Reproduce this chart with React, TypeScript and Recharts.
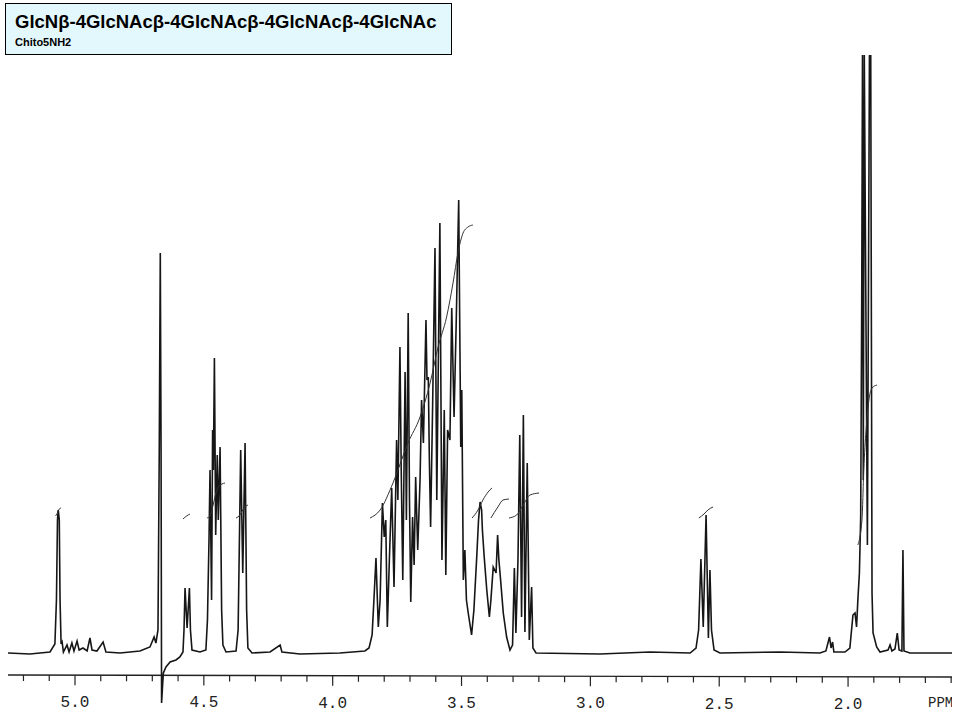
import React from "react";
import { LineChart, Line, XAxis, YAxis, ReferenceLine } from "recharts";

type Pt = [number, number];

// [ppm, intensity]
const anomericRegion: Pt[] = [
  [5.26, 0], [5.175, -1], [5.097, 1], [5.078, 9], [5.072, 53], [5.068, 133], [5.065, 143],
  [5.061, 133], [5.058, 53], [5.054, 9], [5.05, 11], [5.045, 1], [5.031, 8], [5.023, 1],
  [5.012, 10], [5.004, 2], [4.992, 12], [4.984, 3], [4.969, 5], [4.953, 2], [4.942, 15],
  [4.934, 3], [4.915, 2], [4.891, 11], [4.88, 1], [4.825, 0], [4.748, 2], [4.709, 6],
  [4.693, 16], [4.686, 10], [4.678, 23], [4.673, 203], [4.669, 400], [4.666, 203],
  [4.664, -50], [4.66, -32], [4.657, -20], [4.647, -14], [4.631, -9], [4.608, -7],
  [4.593, -4], [4.581, 1],
];

const h1Region: Pt[] = [
  [4.577, 23], [4.573, 65], [4.565, 25], [4.556, 65], [4.552, 23], [4.546, 3], [4.515, 1],
  [4.492, 3], [4.486, 33], [4.48, 113], [4.476, 183], [4.47, 53], [4.466, 223], [4.463, 183],
  [4.459, 295], [4.454, 118], [4.448, 198], [4.444, 133], [4.437, 206], [4.431, 43],
  [4.426, 8], [4.414, 1], [4.375, 2], [4.367, 23], [4.357, 203], [4.349, 80], [4.34, 210],
  [4.334, 43], [4.329, 5], [4.313, 0], [4.243, 1], [4.204, 8], [4.197, 1], [4.127, -1],
  [3.972, 0],
];

const ringRegion: Pt[] = [
  [3.875, 2], [3.859, 5], [3.847, 18], [3.84, 53], [3.832, 95], [3.823, 26], [3.816, 53],
  [3.807, 150], [3.8, 116], [3.794, 133], [3.788, 26], [3.78, 93], [3.771, 165], [3.762, 66],
  [3.752, 213], [3.747, 153], [3.739, 306], [3.734, 183], [3.728, 73], [3.719, 281],
  [3.714, 133], [3.707, 340], [3.702, 153], [3.697, 51], [3.69, 136], [3.684, 88],
  [3.678, 176], [3.67, 103], [3.661, 173], [3.655, 253], [3.648, 210], [3.638, 333],
  [3.634, 273], [3.629, 276], [3.625, 196], [3.62, 126], [3.612, 250], [3.603, 405],
  [3.596, 153], [3.584, 430], [3.576, 93], [3.567, 243], [3.561, 78], [3.554, 223],
  [3.545, 213], [3.538, 345], [3.529, 236], [3.521, 326], [3.511, 453], [3.503, 206],
  [3.499, 263], [3.493, 73], [3.487, 103], [3.481, 53], [3.474, 40], [3.461, 18],
  [3.452, 43], [3.441, 96], [3.434, 133], [3.428, 151], [3.422, 143], [3.419, 123],
  [3.412, 96], [3.402, 63], [3.392, 36], [3.386, 53], [3.377, 86], [3.366, 80], [3.36, 118],
  [3.355, 93], [3.349, 75], [3.338, 40], [3.325, 16], [3.312, 3], [3.302, 8], [3.295, 85],
  [3.289, 20], [3.281, 93], [3.274, 218], [3.267, 36], [3.26, 238], [3.254, 21], [3.245, 190],
  [3.237, 13], [3.228, 66], [3.223, 5], [3.211, 0],
];

const acetylRegion: Pt[] = [
  [2.963, -1], [2.769, 1], [2.613, 0], [2.59, 5], [2.58, 23], [2.571, 94], [2.562, 26],
  [2.551, 138], [2.542, 15], [2.536, 83], [2.53, 23], [2.52, 3], [2.497, 0], [2.264, 1],
  [2.109, 0], [2.086, 2], [2.072, 16], [2.066, 5], [2.06, 11], [2.055, 1], [2.012, 1],
  [1.993, 5], [1.981, 38], [1.973, 40], [1.967, 26], [1.962, 53], [1.956, 80], [1.951, 136],
  [1.947, 353], [1.944, 598], [1.941, 173], [1.937, 598], [1.925, 108], [1.917, 598],
  [1.912, 598], [1.907, 60], [1.903, 20], [1.889, 6], [1.876, 1], [1.845, 3], [1.837, 8],
  [1.83, 2], [1.818, 4], [1.809, 20], [1.802, 3], [1.791, 2], [1.787, 103], [1.783, 2],
  [1.76, 0], [1.585, 0],
];

// integral traces
const int506: Pt[] = [[5.076, 137], [5.07, 139], [5.064, 143], [5.054, 145]];
const int457: Pt[] = [[4.581, 134], [4.567, 137], [4.554, 139]];
const int447: Pt[] = [[4.488, 135], [4.476, 137], [4.464, 148], [4.453, 160], [4.441, 167], [4.418, 170]];
const int435: Pt[] = [[4.375, 135], [4.36, 138], [4.344, 145], [4.329, 148]];
const intRing: Pt[] = [
  [3.855, 135], [3.816, 143], [3.766, 170], [3.708, 210], [3.661, 236], [3.622, 270],
  [3.591, 306], [3.558, 336], [3.533, 370], [3.514, 400], [3.494, 420], [3.475, 426], [3.456, 428],
];
const int343: Pt[] = [[3.459, 135], [3.436, 143], [3.417, 153], [3.397, 161], [3.382, 165]];
const int337: Pt[] = [[3.386, 135], [3.359, 146], [3.339, 153], [3.316, 154]];
const int326: Pt[] = [[3.316, 135], [3.286, 138], [3.261, 148], [3.234, 158], [3.199, 160]];
const int256: Pt[] = [[2.579, 135], [2.559, 139], [2.544, 143], [2.524, 146]];
const int192: Pt[] = [[1.962, 108], [1.946, 133], [1.939, 183], [1.93, 223], [1.919, 253], [1.907, 265], [1.888, 268]];

const ppmTicks = [
  5.2, 5.1, 5.0, 4.9, 4.8, 4.7, 4.6, 4.5, 4.4, 4.3, 4.2, 4.1, 4.0, 3.9, 3.8, 3.7, 3.6, 3.5, 3.4,
  3.3, 3.2, 3.1, 3.0, 2.9, 2.8, 2.7, 2.6, 2.5, 2.4, 2.3, 2.2, 2.1, 2.0, 1.9, 1.8, 1.7, 1.6,
];
const labelledTicks = [5.0, 4.5, 4.0, 3.5, 3.0, 2.5, 2.0];

const toRows = (pts: Pt[]) => pts.map(([ppm, intensity]) => ({ ppm, intensity }));

const spectrum = toRows([...anomericRegion, ...h1Region, ...ringRegion, ...acetylRegion]);
const integrals = [int506, int457, int447, int435, intRing, int343, int337, int326, int256, int192].map(toRows);

const W = 952;
const H = 712;
const MONO = "'Liberation Mono', 'DejaVu Sans Mono', monospace";

// drawn axis sits a little above the plot bottom and tilts slightly (scanned paper)
const axisY = (x: number) => 667 + (2 * x) / 947;

const PpmTick = (props: any) => {
  const { x, payload } = props;
  const v = payload.value as number;
  const major = labelledTicks.some((t) => Math.abs(t - v) < 1e-6);
  const y0 = axisY(x);
  return (
    <g>
      <line x1={x} x2={x} y1={y0} y2={y0 + (major ? 10 : 6)} stroke="#222" strokeWidth={1.2} />
      {major && (
        <text x={x} y={y0 + 32} textAnchor="middle" fontFamily={MONO} fontSize={16} fill="#222">
          {v.toFixed(1)}
        </text>
      )}
    </g>
  );
};

export default function App() {
  return (
    <div style={{ width: W, height: H }}>
      <div
        style={{
          position: "absolute",
          left: 5,
          top: 3,
          width: 447,
          height: 52,
          boxSizing: "border-box",
          border: "1px solid #000",
          background: "#e3f8fc",
          fontFamily: "'Liberation Sans', Arial, sans-serif",
          fontWeight: "bold",
          zIndex: 2,
        }}
      >
        <div style={{ position: "absolute", left: 9, top: 9, fontSize: 18.5, lineHeight: "18px", whiteSpace: "nowrap" }}>
          GlcNβ-4GlcNAcβ-4GlcNAcβ-4GlcNAcβ-4GlcNAc
        </div>
        <div style={{ position: "absolute", left: 9, top: 33, fontSize: 11, lineHeight: "11px" }}>Chito5NH2</div>
      </div>
      <LineChart width={W} height={H} margin={{ top: 47, right: 5, bottom: 0, left: 0 }}>
        <XAxis
          type="number"
          dataKey="ppm"
          domain={[1.585, 5.26]}
          reversed
          allowDataOverflow
          ticks={ppmTicks}
          interval={0}
          axisLine={false}
          tickLine={false}
          tick={<PpmTick />}
          height={15}
        />
        <YAxis type="number" dataKey="intensity" domain={[-52, 598]} allowDataOverflow hide />
        <ReferenceLine
          segment={[
            { x: 5.26, y: -22 },
            { x: 1.585, y: -24 },
          ]}
          stroke="#222"
          strokeWidth={1.3}
        />
        <Line
          data={spectrum}
          dataKey="intensity"
          type="linear"
          stroke="#161616"
          strokeWidth={1.6}
          dot={false}
          isAnimationActive={false}
        />
        {integrals.map((rows, i) => (
          <Line
            key={i}
            data={rows}
            dataKey="intensity"
            type="monotone"
            stroke="#333"
            strokeWidth={1}
            dot={false}
            isAnimationActive={false}
          />
        ))}
        <text x={920} y={699} fontFamily={MONO} fontSize={14} fill="#222">
          PPM
        </text>
      </LineChart>
    </div>
  );
}
